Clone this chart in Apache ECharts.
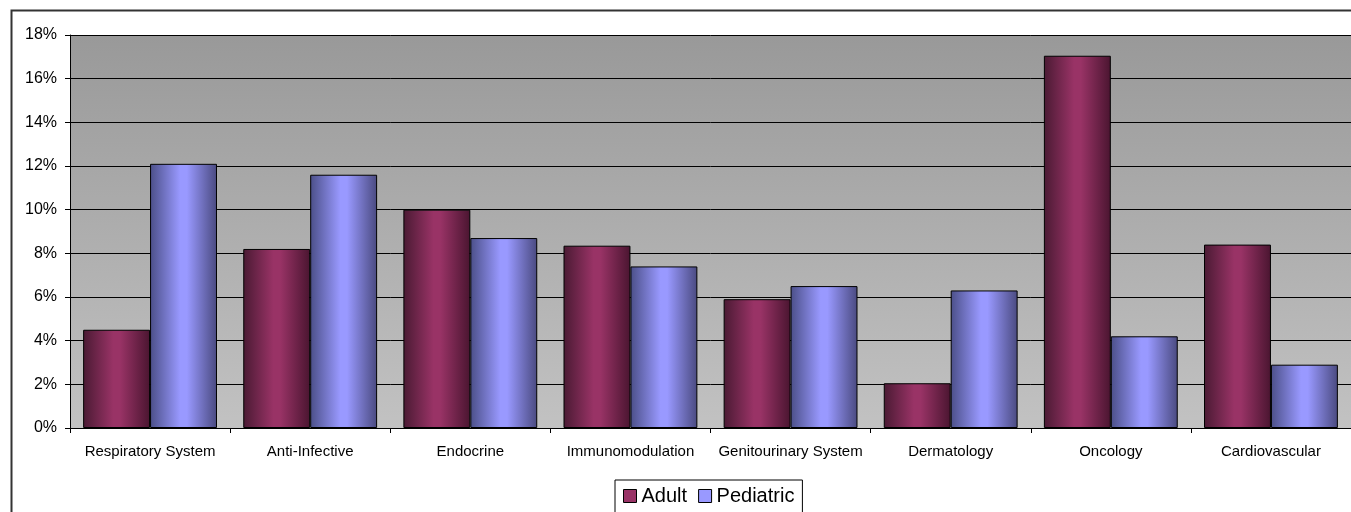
<!DOCTYPE html>
<html>
<head>
<meta charset="utf-8">
<script src="https://cdn.jsdelivr.net/npm/echarts@6/dist/echarts.min.js"></script>
<style>
html,body{margin:0;padding:0;background:#fff;}
#chart{width:1351px;height:512px;}
</style>
</head>
<body>
<div id="chart"></div>
<script>
const categories = ["Respiratory System","Anti-Infective","Endocrine","Immunomodulation","Genitourinary System","Dermatology","Oncology","Cardiovascular"];
const adult = [4.5, 8.2, 10.0, 8.35, 5.9, 2.05, 17.05, 8.4];
const pediatric = [12.1, 11.6, 8.7, 7.4, 6.5, 6.3, 4.2, 2.9];
const yTicks = {min: 0, max: 18, interval: 2};

function hGrad(dark, bright, dark2) {
  return new echarts.graphic.LinearGradient(0, 0, 1, 0, [
    {offset: 0, color: dark},
    {offset: 0.45, color: bright},
    {offset: 0.55, color: bright},
    {offset: 1, color: dark2}
  ]);
}

const chart = echarts.init(document.getElementById('chart'), null, {renderer: 'canvas'});
chart.setOption({
  animation: false,
  textStyle: {fontFamily: 'Liberation Sans, Arial, sans-serif', color: '#000'},
  graphic: [{
    type: 'rect', left: 9, top: 8, z: -10,
    shape: {x: 0, y: 0, width: 1400, height: 600},
    style: {fill: 'none', stroke: '#333', lineWidth: 2}
  }],
  grid: {
    left: 70, top: 35, right: 0, bottom: 84,
    show: true, borderWidth: 0,
    backgroundColor: new echarts.graphic.LinearGradient(0, 0, 0, 1, [
      {offset: 0, color: '#999999'},
      {offset: 1, color: '#c2c2c2'}
    ])
  },
  legend: {
    top: 480, left: 615,
    padding: [6, 8, 10, 8],
    borderColor: '#000', borderWidth: 1,
    itemWidth: 13, itemHeight: 13, itemGap: 11,
    icon: 'rect',
    textStyle: {fontSize: 20, fontFamily: 'Liberation Sans, Arial, sans-serif', color: '#000'},
    data: [
      {name: 'Adult', itemStyle: {color: '#993366', borderColor: '#000', borderWidth: 1}},
      {name: 'Pediatric', itemStyle: {color: '#9999ff', borderColor: '#000', borderWidth: 1}}
    ]
  },
  xAxis: {
    type: 'category', data: categories,
    axisLine: {lineStyle: {color: '#000', width: 1}},
    axisTick: {show: true, length: 5, lineStyle: {color: '#000'}},
    axisLabel: {fontSize: 15, color: '#000', margin: 16, interval: 0},
    splitLine: {show: false}
  },
  yAxis: {
    type: 'value', min: yTicks.min, max: yTicks.max, interval: yTicks.interval,
    axisLine: {show: true, lineStyle: {color: '#000', width: 1}},
    axisTick: {show: true, length: 5, lineStyle: {color: '#000'}},
    axisLabel: {fontSize: 16, color: '#000', margin: 13, formatter: '{value}%'},
    splitLine: {show: true, lineStyle: {color: '#000', width: 1}}
  },
  series: [
    {
      name: 'Adult', type: 'bar', data: adult,
      barGap: '0%', barCategoryGap: '16.4%',
      itemStyle: {color: hGrad('#4a1a33', '#993366', '#4a1530'), borderColor: '#000', borderWidth: 1}
    },
    {
      name: 'Pediatric', type: 'bar', data: pediatric,
      barGap: '0%', barCategoryGap: '16.4%',
      itemStyle: {color: hGrad('#4b4f88', '#9999ff', '#4a4a80'), borderColor: '#000', borderWidth: 1}
    }
  ]
});
</script>
</body>
</html>
